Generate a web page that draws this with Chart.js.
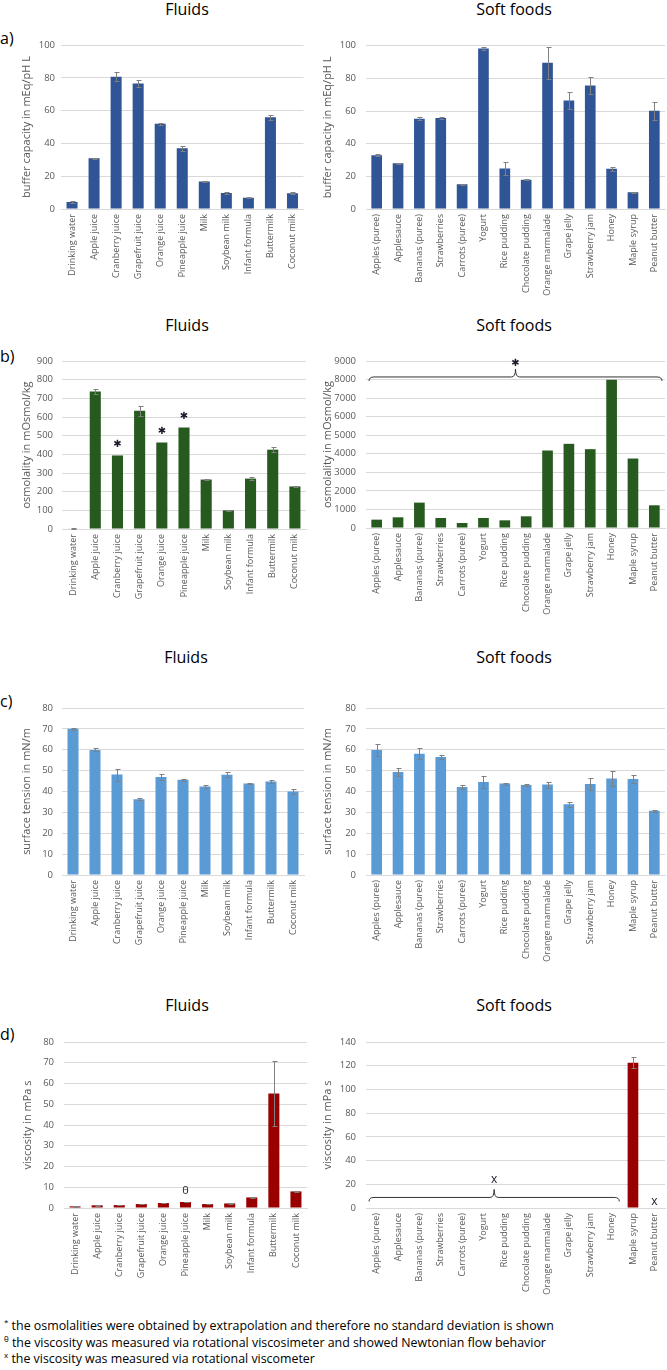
<!DOCTYPE html>
<html>
<head>
<meta charset="utf-8">
<script src="https://cdn.jsdelivr.net/npm/chart.js@4.4.1/dist/chart.umd.min.js"></script>
<style>
body{margin:0;width:667px;height:1370px;overflow:hidden;position:relative;background:#fff;font-family:'Open Sans',sans-serif;}
canvas{position:absolute;}
.t{position:absolute;font-size:16px;color:#000;transform:translate(-50%,-50%);white-space:nowrap;}
.p{position:absolute;left:0;font-size:16px;color:#000;transform:translateY(-50%);}
.note{position:absolute;left:4px;font-size:12.4px;color:#000;white-space:nowrap;transform:translateY(-50%);}
.note sup{font-size:8px;}
</style>
</head>
<body>
<div class="t" style="left:187px;top:9px">Fluids</div>
<div class="t" style="left:514px;top:9px">Soft foods</div>
<div class="p" style="top:38px">a)</div>
<div class="t" style="left:187px;top:325px">Fluids</div>
<div class="t" style="left:514px;top:325px">Soft foods</div>
<div class="p" style="top:356px">b)</div>
<div class="t" style="left:186px;top:657px">Fluids</div>
<div class="t" style="left:514px;top:657px">Soft foods</div>
<div class="p" style="top:701px">c)</div>
<div class="t" style="left:187px;top:1005px">Fluids</div>
<div class="t" style="left:514px;top:1005px">Soft foods</div>
<div class="p" style="top:1034px">d)</div>

<div class="note" style="top:1325px"><sup>*</sup> the osmolalities were obtained by extrapolation and therefore no standard deviation is shown</div>
<div class="note" style="top:1342px"><sup>θ</sup> the viscosity was measured via rotational viscosimeter and showed Newtonian flow behavior</div>
<div class="note" style="top:1358px"><sup>x</sup> the viscosity was measured via rotational viscometer</div>

<script>
// categories
var fluids = ['Drinking water','Apple juice','Cranberry juice','Grapefruit juice','Orange juice','Pineapple juice','Milk','Soybean milk','Infant formula','Buttermilk','Coconut milk'];
var softFoods = ['Apples (puree)','Applesauce','Bananas (puree)','Strawberries','Carrots (puree)','Yogurt','Rice pudding','Chocolate pudding','Orange marmalade','Grape jelly','Strawberry jam','Honey','Maple syrup','Peanut butter'];

// a) buffer capacity
var bufferFluids   = [4.3, 30.9, 80.7, 76.5, 52, 37, 16.7, 9.8, 6.9, 55.9, 9.6];
var bufferFluidsSd = [0.4, 0.4, 2.8, 2, 0.6, 1.6, 0.4, 0.4, 0.3, 1.6, 0.5];
var bufferSoft     = [32.9, 28, 55.3, 55.7, 15.2, 98.3, 24.8, 17.9, 89.6, 66.5, 75.6, 24.6, 10.2, 60.2];
var bufferSoftSd   = [0.6, 0.4, 0.8, 0.8, 0.4, 0.7, 4, 0.4, 9.8, 5.2, 5.4, 1.4, 0.3, 5.6];

// b) osmolality
var osmFluids   = [3, 737, 394, 633, 463, 544, 265, 100, 270, 425, 228];
var osmFluidsSd = [1, 13, null, 28, null, null, 5, 3, 8, 15, 4];
var osmSoft     = [450, 576, 1368, 540, 270, 540, 414, 630, 4176, 4536, 4248, 7992, 3744, 1224];

// c) surface tension
var tensionFluids   = [70.1, 59.9, 48.1, 36.3, 47, 45.6, 42.4, 48, 43.8, 44.8, 40];
var tensionFluidsSd = [0.4, 0.7, 2.9, 0.5, 1.6, 0.6, 0.7, 1.2, 0.3, 0.7, 1.3];
var tensionSoft     = [59.9, 49.4, 58.1, 56.5, 42.2, 44.6, 43.8, 43.1, 43.3, 33.9, 43.6, 46.2, 46, 30.8];
var tensionSoftSd   = [2.9, 1.8, 2.6, 1, 1.1, 2.7, 0.5, 0.3, 1.4, 1.3, 2.7, 3.4, 1.8, 0.5];

// d) viscosity
var viscFluids   = [0.8, 1.3, 1.4, 1.9, 2.4, 2.9, 1.9, 2.2, 5.1, 55.2, 8.0];
var viscFluidsSd = [0.1, 0.1, 0.1, 0.1, 0.1, 0.1, 0.1, 0.1, 0.2, 15.5, 0.3];
var viscSoft     = [null, null, null, null, null, null, null, null, null, null, null, null, 122.6, null];
var viscSoftSd   = [null, null, null, null, null, null, null, null, null, null, null, null, 4.5, null];

Chart.defaults.font.family = "'Open Sans', sans-serif";
Chart.defaults.color = '#595959';

var errorBars = {
    id: 'errorBars',
    afterDatasetsDraw: function(chart, args, opts) {
        if (!opts.sd) return;
        var ctx = chart.ctx, y = chart.scales.y;
        var vals = chart.data.datasets[0].data;
        ctx.save();
        ctx.strokeStyle = '#808080';
        ctx.lineWidth = 1;
        chart.getDatasetMeta(0).data.forEach(function(bar, i) {
            var v = vals[i], e = opts.sd[i];
            if (v == null || e == null) return;
            var x = Math.round(bar.x) + 0.5;
            var y1 = Math.round(y.getPixelForValue(v + e)) + 0.5;
            var y2 = Math.round(y.getPixelForValue(Math.max(v - e, 0))) + 0.5;
            ctx.beginPath();
            ctx.moveTo(x, y1); ctx.lineTo(x, y2);
            ctx.moveTo(x - 2, y1); ctx.lineTo(x + 3, y1);
            ctx.moveTo(x - 2, y2); ctx.lineTo(x + 3, y2);
            ctx.stroke();
        });
        ctx.restore();
    }
};

// asterisks, theta, x and curly braces
var notes = {
    id: 'notes',
    afterDatasetsDraw: function(chart, args, opts) {
        var ctx = chart.ctx, xs = chart.scales.x, ys = chart.scales.y;
        var vals = chart.data.datasets[0].data;
        ctx.save();
        ctx.fillStyle = '#1b1b2b';
        ctx.textAlign = 'center';
        ctx.textBaseline = 'middle';
        (opts.marks || []).forEach(function(m) {
            ctx.font = m.font;
            ctx.fillText(m.text, xs.getPixelForValue(m.i), ys.getPixelForValue(vals[m.i] || 0) - m.dy);
        });
        var b = opts.brace;
        if (b) {
            var half = (xs.getPixelForValue(1) - xs.getPixelForValue(0)) / 2;
            var x1 = xs.getPixelForValue(b.from) - half + 3;
            var x2 = xs.getPixelForValue(b.to) + half - 3;
            var xm = (x1 + x2) / 2;
            var y = ys.getPixelForValue(b.value);
            ctx.strokeStyle = '#333';
            ctx.lineWidth = 1;
            ctx.beginPath();
            ctx.moveTo(x1, y + 4);
            ctx.quadraticCurveTo(x1, y, x1 + 5, y);
            ctx.lineTo(xm - 4, y);
            ctx.quadraticCurveTo(xm, y, xm, y - 8);
            ctx.quadraticCurveTo(xm, y, xm + 4, y);
            ctx.lineTo(x2 - 5, y);
            ctx.quadraticCurveTo(x2, y, x2, y + 4);
            ctx.stroke();
            ctx.font = b.font;
            ctx.fillText(b.text, xm, y - 8 - b.dy);
        }
        ctx.restore();
    }
};

function barChart(box, plot, labels, values, sd, color, yMax, yStep, yTitle, tickPad, marks, brace) {
    var cv = document.createElement('canvas');
    cv.width = box.w; cv.height = box.h;
    cv.style.left = box.x + 'px'; cv.style.top = box.y + 'px';
    document.body.appendChild(cv);
    new Chart(cv.getContext('2d'), {
        type: 'bar',
        data: {labels: labels, datasets: [{data: values, backgroundColor: color, barPercentage: 0.5, categoryPercentage: 1}]},
        options: {
            responsive: false, animation: false, events: [],
            layout: {padding: {top: plot.t - box.y, right: box.x + box.w - plot.r, left: 0, bottom: 0}},
            plugins: {legend: {display: false}, tooltip: {enabled: false},
                      errorBars: {sd: sd}, notes: {marks: marks, brace: brace}},
            scales: {
                x: {grid: {display: false, drawTicks: false}, border: {color: '#d9d9d9'},
                    ticks: {autoSkip: false, minRotation: 90, maxRotation: 90, padding: 5, font: {size: 9}},
                    afterFit: function(s) { s.height = box.y + box.h - plot.b; }},
                y: {min: 0, max: yMax, grid: {color: '#d9d9d9', drawTicks: false}, border: {display: false},
                    ticks: {stepSize: yStep, padding: tickPad, font: {size: 9.5},
                            callback: function(v) { return String(v); }},
                    title: {display: true, text: yTitle, font: {size: 11}, padding: {top: 5, bottom: 0}},
                    afterFit: function(s) { s.width = plot.l - box.x; }}
            }
        },
        plugins: [errorBars, notes]
    });
}

var star = "10px 'DejaVu Sans'";

barChart({x: 15, y: 30, w: 300, h: 285}, {l: 61, t: 45, r: 303.5, b: 209}, fluids, bufferFluids, bufferFluidsSd,
    '#2F5597', 100, 20, 'buffer capacity in mEq/pH L', 6);
barChart({x: 316, y: 30, w: 364, h: 285}, {l: 366, t: 45, r: 665, b: 209}, softFoods, bufferSoft, bufferSoftSd,
    '#2F5597', 100, 20, 'buffer capacity in mEq/pH L', 10);

barChart({x: 15, y: 345, w: 300, h: 285}, {l: 62, t: 361, r: 306, b: 529}, fluids, osmFluids, osmFluidsSd,
    '#275A1F', 900, 100, 'osmolality in mOsmol/kg', 9,
    [{i: 2, text: '✱', dy: 11, font: star}, {i: 4, text: '✱', dy: 11, font: star}, {i: 5, text: '✱', dy: 11, font: star}]);
barChart({x: 316, y: 345, w: 364, h: 285}, {l: 366, t: 361, r: 665, b: 528}, softFoods, osmSoft, null,
    '#275A1F', 9000, 1000, 'osmolality in mOsmol/kg', 10, [],
    {from: 0, to: 13, value: 8140, text: '✱', dy: 6, font: star});

barChart({x: 15, y: 690, w: 300, h: 290}, {l: 62, t: 708, r: 304, b: 875}, fluids, tensionFluids, tensionFluidsSd,
    '#5B9BD5', 80, 10, 'surface tension in mN/m', 9);
barChart({x: 316, y: 690, w: 364, h: 290}, {l: 366, t: 708, r: 665, b: 875}, softFoods, tensionSoft, tensionSoftSd,
    '#5B9BD5', 80, 10, 'surface tension in mN/m', 10);

barChart({x: 16, y: 1025, w: 300, h: 290}, {l: 64, t: 1042, r: 307, b: 1208}, fluids, viscFluids, viscFluidsSd,
    '#990000', 80, 10, 'viscosity in mPa s', 10,
    [{i: 5, text: 'θ', dy: 11, font: "11px 'Open Sans'"}]);
barChart({x: 316, y: 1025, w: 364, h: 290}, {l: 366, t: 1042, r: 665, b: 1208}, softFoods, viscSoft, viscSoftSd,
    '#990000', 140, 20, 'viscosity in mPa s', 10,
    [{i: 13, text: 'x', dy: 6, font: "12px 'Open Sans'"}],
    {from: 0, to: 11, value: 8.9, text: 'x', dy: 10, font: "12px 'Open Sans'"});
</script>
</body>
</html>
